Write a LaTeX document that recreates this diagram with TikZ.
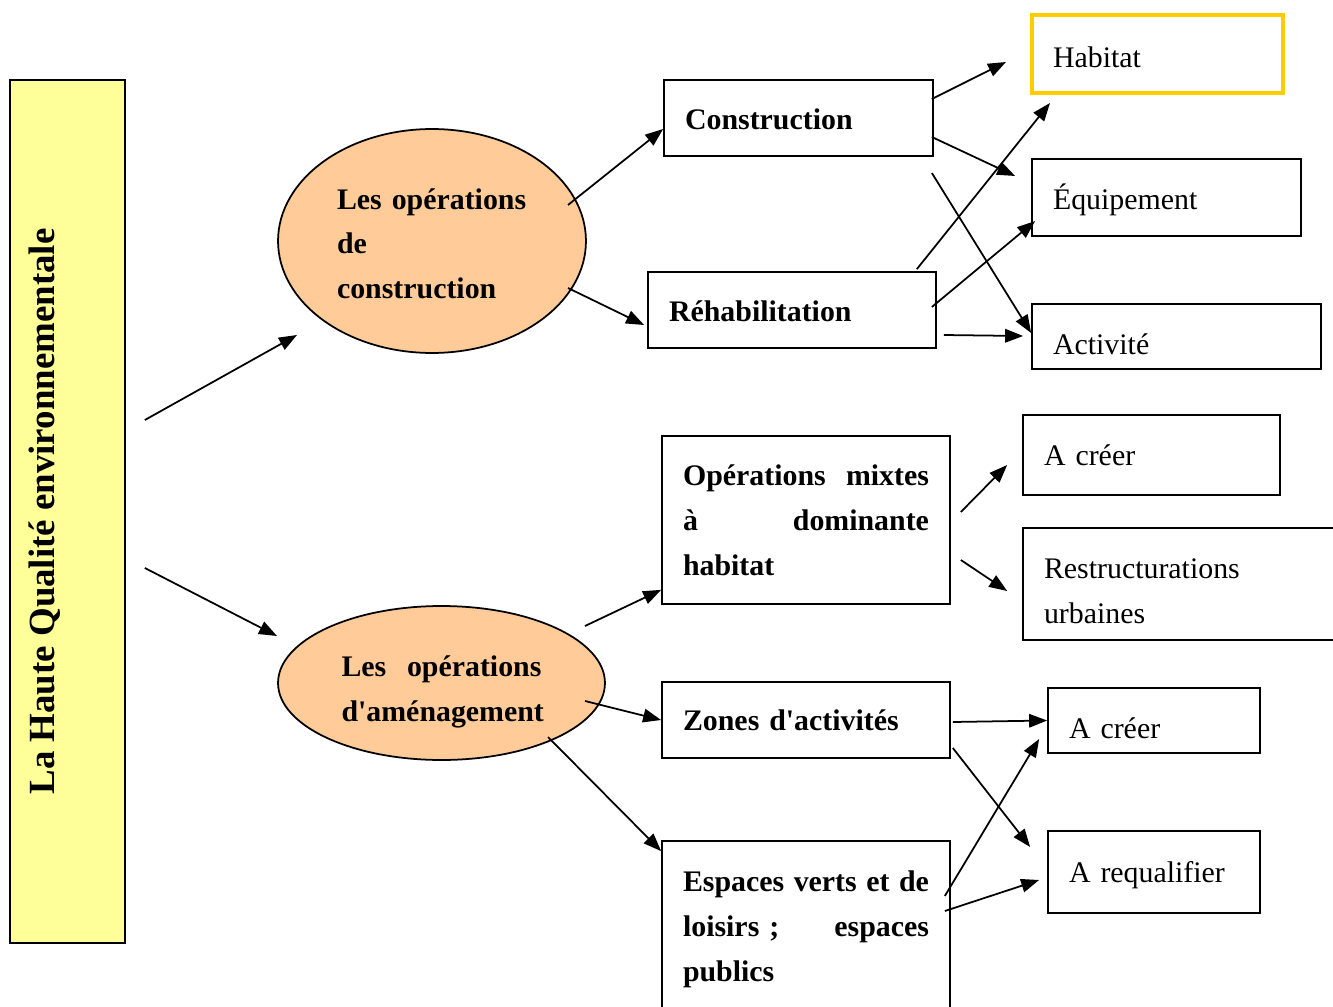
\documentclass[tikz,border=0pt]{standalone}
\usepackage{fontspec}
\setmainfont{Liberation Serif}
\usepackage{xcolor}
\usetikzlibrary{arrows.meta,shapes.geometric}

\definecolor{paleyellow}{HTML}{FFFF99}
\definecolor{peach}{HTML}{FFCC99}
\definecolor{gold}{HTML}{FFCC00}

\newcommand{\fullline}[2]{\leavevmode\hbox to #1{#2}}
\newcommand{\lowered}[2]{\raisebox{-#1}[\height][\depth]{#2}}

\begin{document}
\begin{tikzpicture}[x=0.02cm, y=-0.02cm,
	box/.style={draw, line width=1pt, fill=white, inner xsep=0.42cm, inner ysep=0pt, align=left, font=\fontsize{17}{25.5}\selectfont},
	opbox/.style={box, font=\bfseries\fontsize{17}{25.5}\selectfont},
	oval/.style={ellipse, draw, line width=1pt, fill=peach, inner sep=0pt, align=left, font=\bfseries\fontsize{17}{25.5}\selectfont},
	arr/.style={-{Triangle[length=0.36cm, width=0.27cm]}, line width=1pt}]
 	\useasboundingbox (0,0) rectangle (1333,1007);
 	% Nodes
 	\node[draw, line width=1pt, fill=paleyellow, minimum width=2.3cm, minimum height=17.26cm] (qual) at (67.5,511.5) {};
 	\node[rotate=90, font=\bfseries\fontsize{21}{25}\selectfont] (qualtxt) at (45,511.5) {La Haute Qualité environnementale};
 	\node[oval, minimum width=6.16cm, minimum height=4.48cm, text width=3.8cm] (opc) at (432,241) {\lowered{1.5pt}{Les opérations}\\ \lowered{1.5pt}{de}\\ \lowered{1.5pt}{construction}};
 	\node[oval, minimum width=6.54cm, minimum height=3.08cm, text width=4.0cm] (opa) at (441.5,683) {\lowered{5pt}{\fullline{4.0cm}{Les\hfill opérations}}\\ \lowered{5pt}{d\textquotesingle aménagement}};
 	\node[opbox, text width=4.54cm, minimum height=1.52cm] (cons) at (798.5,118) {\lowered{1pt}{Construction}};
 	\node[opbox, text width=4.92cm, minimum height=1.52cm] (rehab) at (792,310) {\lowered{1pt}{Réhabilitation}};
 	\node[opbox, text width=4.92cm, minimum height=3.36cm] (mixt) at (806,520) {\fullline{4.92cm}{Opérations\hfill mixtes}\\ \fullline{4.92cm}{à\hfill dominante}\\ habitat};
 	\node[opbox, text width=4.92cm, minimum height=1.52cm] (zone) at (806,720) {Zones d\textquotesingle activités};
 	\node[opbox, text width=4.92cm, minimum height=3.42cm] (esp) at (806,926.5) {\lowered{1.5pt}{\fullline{4.92cm}{Espaces\hfill verts\hfill et\hfill de}}\\ \lowered{1.5pt}{\fullline{4.92cm}{loisirs~;\hfill espaces}}\\ \lowered{1.5pt}{publics}};
 	\node[box, draw=gold, line width=2.3pt, text width=4.18cm, minimum height=1.56cm] (hab) at (1157.5,54) {\lowered{1.7pt}{Habitat}};
 	\node[box, text width=4.54cm, minimum height=1.54cm] (equip) at (1166.5,197.5) {\lowered{1.5pt}{Équipement}};
 	\node[box, text width=4.94cm, minimum height=1.3cm] (activ) at (1176.5,336.5) {\lowered{4.5pt}{Activité}};
 	\node[box, text width=4.3cm, minimum height=1.6cm] (creerA) at (1151.5,455) {A créer};
 	\node[box, text width=5.96cm, minimum height=2.24cm] (restr) at (1193,584) {\lowered{4pt}{Restructurations}\\ \lowered{4pt}{urbaines}};
 	\node[box, text width=3.4cm, minimum height=1.3cm] (creerB) at (1154,720.5) {\lowered{4.5pt}{A créer}};
 	\node[box, text width=3.4cm, minimum height=1.64cm] (requal) at (1154,872) {\lowered{1.7pt}{A requalifier}};
 	% Edges
 	\draw[arr] ([shift={(19,-91.5)}]qual.east) -- ([shift={(-135,94)}]opc.center);
 	\draw[arr] ([shift={(19,56.5)}]qual.east) -- ([shift={(-164.5,-47)}]opa.center);
 	\draw[arr] ([shift={(136,-36)}]opc.center) -- ([shift={(0,11)}]cons.west);
 	\draw[arr] ([shift={(136,47)}]opc.center) -- ([shift={(-3,15)}]rehab.west);
 	\draw[arr] ([shift={(143.5,-57)}]opa.center) -- ([shift={(0,-15)}]mixt.south west);
 	\draw[arr] ([shift={(143.5,18)}]opa.center) -- (zone.west);
 	\draw[arr] ([shift={(106.5,54)}]opa.center) -- ([shift={(0,11)}]esp.north west);
 	\draw[arr] ([shift={(-2,-19)}]cons.east) -- ([shift={(-24,8)}]hab.west);
 	\draw[arr] ([shift={(-2,19)}]cons.east) -- ([shift={(-16,-21.5)}]equip.west);
 	\draw[arr] ([shift={(-2,55)}]cons.east) -- ([shift={(0,-3.5)}]activ.west);
 	\draw[arr] ([shift={(-20,-2)}]rehab.north east) -- ([shift={(20,8)}]hab.south west);
 	\draw[arr] ([shift={(-5,-3)}]rehab.east) -- ([shift={(4,23.5)}]equip.west);
 	\draw[arr] ([shift={(7,25)}]rehab.east) -- ([shift={(-8,-0.5)}]activ.west);
 	\draw[arr] ([shift={(10,-8)}]mixt.east) -- ([shift={(-15,10)}]creerA.west);
 	\draw[arr] ([shift={(10,40)}]mixt.east) -- ([shift={(-15,7)}]restr.west);
 	\draw[arr] ([shift={(2,2)}]zone.east) -- (creerB.west);
 	\draw[arr] ([shift={(2,28)}]zone.east) -- ([shift={(-17,-25)}]requal.west);
 	\draw[arr] ([shift={(-6,-30.5)}]esp.east) -- ([shift={(-8,18.5)}]creerB.west);
 	\draw[arr] ([shift={(-6,-15.5)}]esp.east) -- ([shift={(-8,8)}]requal.west);
\end{tikzpicture}
\end{document}
